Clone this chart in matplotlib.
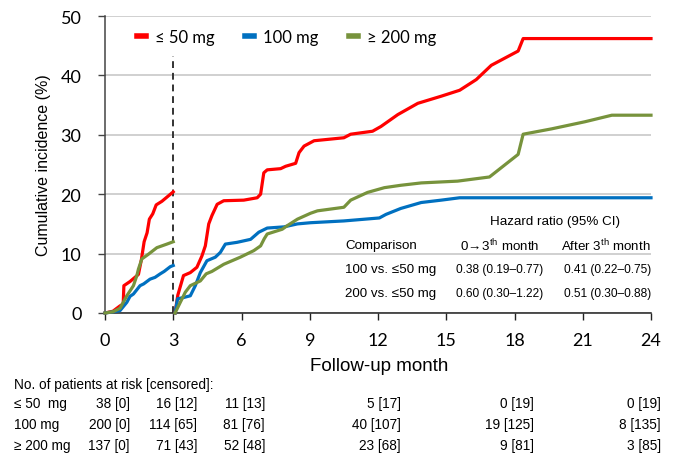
#
#   Cumulative incidence by dose group, with hazard ratios and risk table.
#

import matplotlib
matplotlib.use('Agg')
import matplotlib.pyplot as plt

# --- data -----------------------------------------------------------------

groups = ['\u2264 50 mg', '100 mg', '\u2265 200 mg']
colors = ['#ff0000', '#0070c0', '#77933c']

# 0 -> 3 months
red_m1 = [0, 0.35, 0.66, 0.8, 0.83, 1.1, 1.47, 1.6, 1.72, 1.85, 1.95, 2.1,
          2.25, 2.5, 2.75, 3.0]
red_v1 = [0, 0.3, 1.2, 1.5, 4.6, 5.3, 6.5, 9.0, 12.0, 13.5, 15.8, 16.7,
          18.2, 18.8, 19.6, 20.4]
blue_m1 = [0, 0.35, 0.66, 0.96, 1.1, 1.25, 1.54, 1.7, 1.98, 2.2, 2.43, 2.6,
           2.87, 3.0]
blue_v1 = [0, 0.2, 0.4, 1.8, 2.8, 3.2, 4.6, 4.9, 5.7, 6.0, 6.6, 7.0, 7.8, 8.0]
green_m1 = [0, 0.35, 0.66, 0.96, 1.25, 1.4, 1.47, 1.62, 1.91, 2.28, 2.72, 3.0]
green_v1 = [0, 0.2, 0.8, 2.9, 4.6, 6.3, 7.4, 9.1, 9.9, 11.0, 11.6, 12.0]

# after 3rd month
red_m2 = [3.08, 3.2, 3.45, 3.75, 4.04, 4.26, 4.41, 4.56, 4.7, 4.93, 5.22,
          6.1, 6.69, 6.84, 6.98, 7.13, 7.72, 7.94, 8.38, 8.53, 8.75, 9.19,
          10.5, 10.8, 11.76, 12.13, 12.87, 13.75, 14.78, 15.59, 16.32, 16.98,
          18.16, 18.38, 24]
red_v2 = [0, 3.0, 6.3, 6.8, 7.7, 9.6, 11.3, 15.0, 16.4, 18.3, 18.9,
          19.0, 19.4, 20.0, 23.6, 24.1, 24.3, 24.7, 25.2, 27.0, 28.1, 29.0,
          29.5, 30.1, 30.6, 31.4, 33.4, 35.3, 36.5, 37.5, 39.3, 41.7,
          44.1, 46.2, 46.2]
blue_m2 = [3.08, 3.19, 3.45, 3.75, 3.97, 4.19, 4.48, 4.85, 5.07, 5.29, 5.81,
           6.4, 6.76, 7.13, 7.87, 8.46, 9.04, 10.5, 12.06, 12.35, 13.0, 13.9,
           14.78, 15.59, 24]
blue_v2 = [0, 2.4, 2.6, 2.9, 4.6, 6.8, 8.8, 9.4, 10.2, 11.6, 11.9,
           12.4, 13.6, 14.3, 14.5, 15.0, 15.2, 15.5, 16.0, 16.6, 17.6, 18.6,
           19.0, 19.4, 19.4]
green_m2 = [3.08, 3.31, 3.53, 3.75, 4.19, 4.45, 4.7, 5.22, 5.95, 6.54, 6.84,
            7.0, 7.13, 7.79, 8.01, 8.46, 9.04, 9.34, 10.5, 10.8, 11.54, 12.28,
            13.0, 13.9, 15.5, 16.9, 18.16, 18.38, 19.63, 21.1, 22.28, 24]
green_v2 = [0, 1.8, 3.5, 4.6, 5.4, 6.6, 7.0, 8.2, 9.4, 10.5, 11.3,
            12.5, 13.3, 14.1, 14.7, 15.8, 16.8, 17.2, 17.8, 19.0, 20.3, 21.1,
            21.5, 21.9, 22.2, 22.9, 26.7, 30.1, 31.0, 32.2, 33.3, 33.3]

# hazard ratios
hr_rows = ['100 vs. \u226450 mg', '200 vs. \u226450 mg']
hr_early = ['0.38 (0.19\u20130.77)', '0.60 (0.30\u20131.22)']
hr_late = ['0.41 (0.22\u20130.75)', '0.51 (0.30\u20130.88)']

# patients at risk [censored]
risk_labels = ['\u2264 50  mg', '100 mg', '\u2265 200 mg']
risk_months = [0, 3, 6, 12, 18, 24]
at_risk = [[38, 16, 11, 5, 0, 0],
           [200, 114, 81, 40, 19, 8],
           [137, 71, 52, 23, 9, 3]]
censored = [[0, 12, 13, 17, 19, 19],
            [0, 65, 76, 107, 125, 135],
            [0, 43, 48, 68, 81, 85]]

# --- plot -----------------------------------------------------------------

plt.rcParams['mathtext.fontset'] = 'custom'
plt.rcParams['mathtext.rm'] = 'Liberation Sans'
plt.rcParams['mathtext.fallback'] = 'stixsans'

W, H = 673, 460
TICKFONT = ['Lato', 'DejaVu Sans']
ARIAL = ['Liberation Sans', 'DejaVu Sans']


def fx(px):
    return px / W


def fy(py):
    return 1 - py / H


fig = plt.figure(figsize=(W / 100, H / 100), dpi=100)
ax = fig.add_axes([fx(105), fy(314), fx(651) - fx(105), fy(17) - fy(314)])

segments = [(red_m1, red_v1, red_m2, red_v2),
            (blue_m1, blue_v1, blue_m2, blue_v2),
            (green_m1, green_v1, green_m2, green_v2)]

for (m1, v1, m2, v2), col, lab in zip(segments, colors, groups):
    ax.plot(m1, v1, color=col, lw=2.3, label=lab, zorder=3, clip_on=False,
            solid_joinstyle='round')
    ax.plot(m2, v2, color=col, lw=2.3, zorder=3, clip_on=False,
            solid_joinstyle='round')

ax.plot([3, 3], [0, 43.2], color='#333333', lw=1.4, ls=(0, (3.5, 2.5)),
        zorder=2)

ax.set_xlim(0, 24)
ax.set_ylim(0, 50)
ax.set_xticks(range(0, 25, 3))
ax.set_yticks(range(0, 51, 10))
ax.yaxis.grid(True, color='#c8c8c8', lw=1.2)
ax.set_axisbelow(True)
for side in ['top', 'right']:
    ax.spines[side].set_visible(False)
ax.spines['left'].set_color('#444444')
ax.spines['bottom'].set_color('#222222')
ax.spines['left'].set_linewidth(1.1)
ax.spines['bottom'].set_linewidth(1.1)
ax.tick_params(axis='x', length=5, width=1.0, pad=9, colors='#222222',
               labelcolor='black')
ax.tick_params(axis='y', length=5, width=1.0, pad=12, colors='#444444',
               labelcolor='black')
for lbl in ax.get_xticklabels() + ax.get_yticklabels():
    lbl.set_family(TICKFONT)
    lbl.set_fontsize(13)

ax.set_ylabel('Cumulative incidence (%)', family=ARIAL, fontsize=11.5)
ax.yaxis.set_label_coords(fx(51), fy(165.5), transform=fig.transFigure)
fig.text(fx(379), fy(367), 'Follow-up month', family=ARIAL, fontsize=13.5,
         ha='center', va='center')

leg = ax.legend(loc='center left', bbox_to_anchor=(fx(137), fy(38)),
                bbox_transform=fig.transFigure, ncol=3, frameon=False,
                handlelength=0.55, handletextpad=0.55, columnspacing=1.8,
                borderpad=0, borderaxespad=0,
                prop={'family': TICKFONT, 'size': 12})
for line in leg.get_lines():
    line.set_linewidth(4)

# hazard ratio table
fig.text(fx(555), fy(222), 'Hazard ratio (95% CI)', family=ARIAL,
         fontsize=9.6, ha='center', va='center')
fig.text(fx(345), fy(246), 'Comparison', family=ARIAL, fontsize=9.6,
         ha='left', va='center')
fig.text(fx(500), fy(246), '0$\\!\\rightarrow\\!$3$^{\\mathrm{th}}$ month',
         family=ARIAL, fontsize=9.6, ha='center', va='center')
fig.text(fx(651), fy(246), 'After 3$^{\\mathrm{th}}$ month', family=ARIAL,
         fontsize=9.6, ha='right', va='center')
for i, (row, early, late) in enumerate(zip(hr_rows, hr_early, hr_late)):
    y = fy(270 + 24.5 * i)
    fig.text(fx(345), y, row, family=ARIAL, fontsize=9.6, ha='left',
             va='center')
    fig.text(fx(500), y, early, family=ARIAL, fontsize=8.6, ha='center',
             va='center')
    fig.text(fx(651), y, late, family=ARIAL, fontsize=8.6, ha='right',
             va='center')

# risk table
fig.text(fx(14), fy(385), 'No. of patients at risk [censored]:',
         family=ARIAL, fontsize=9.8, ha='left', va='center')
col_right = [130, 197, 265, 401, 534, 661]
for i, lab in enumerate(risk_labels):
    y = fy(404 + 21 * i)
    fig.text(fx(14), y, lab, family=ARIAL, fontsize=9.8, ha='left',
             va='center')
    for j, m in enumerate(risk_months):
        fig.text(fx(col_right[j]), y,
                 '{0} [{1}]'.format(at_risk[i][j], censored[i][j]),
                 family=ARIAL, fontsize=9.8, ha='right', va='center')

fig.savefig('out.png', dpi=100)
plt.close(fig)
